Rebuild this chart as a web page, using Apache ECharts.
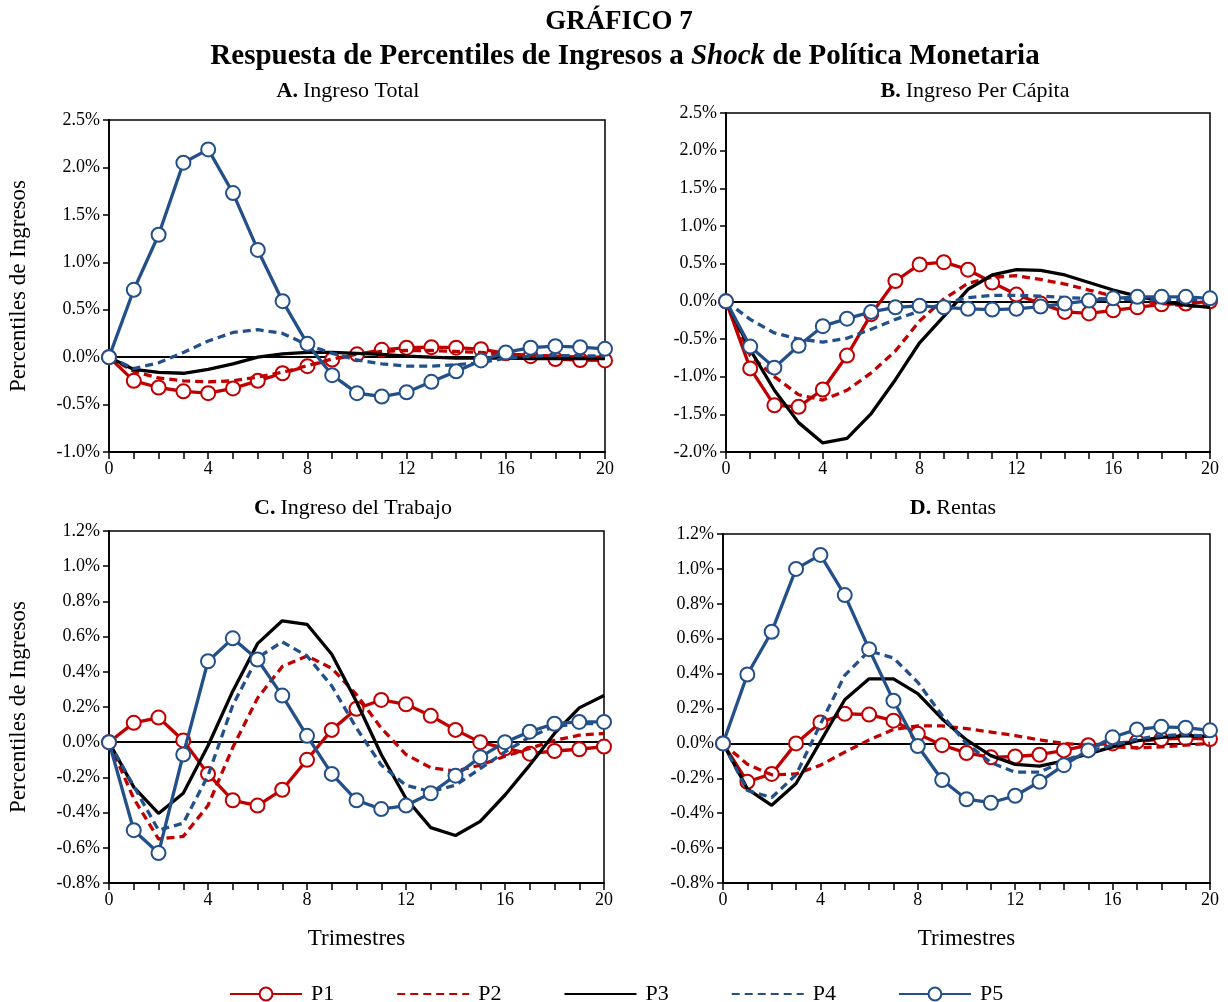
<!DOCTYPE html>
<html>
<head>
<meta charset="utf-8">
<script src="https://cdn.jsdelivr.net/npm/echarts@6/dist/echarts.min.js"></script>
<style>
  html, body { margin: 0; padding: 0; background: #fff; }
  #chart { width: 1228px; height: 1002px; }
</style>
</head>
<body>
<div id="chart"></div>
<script>
// Quarters after the shock (x axis categories)
const quarters = ['0','1','2','3','4','5','6','7','8','9','10','11','12','13','14','15','16','17','18','19','20'];

// A. Ingreso Total (% response)
const totalP1 = [0,-0.25,-0.32,-0.36,-0.38,-0.33,-0.25,-0.17,-0.095,-0.025,0.03,0.077,0.10,0.105,0.10,0.084,0.04,0.01,-0.02,-0.03,-0.035];
const totalP2 = [0,-0.15,-0.22,-0.25,-0.26,-0.25,-0.21,-0.16,-0.09,-0.02,0.03,0.06,0.07,0.07,0.06,0.05,0.03,0.02,0.01,0.0,0.0];
const totalP3 = [0,-0.13,-0.16,-0.17,-0.13,-0.07,0.0,0.035,0.05,0.05,0.04,0.03,0.01,0.0,-0.01,-0.01,-0.01,-0.015,-0.015,-0.015,-0.015];
const totalP4 = [0,-0.12,-0.06,0.05,0.17,0.26,0.29,0.25,0.13,0.04,-0.03,-0.07,-0.095,-0.095,-0.08,-0.06,-0.01,0.01,0.015,0.015,0.01];
const totalP5 = [0,0.71,1.29,2.05,2.19,1.73,1.13,0.59,0.14,-0.19,-0.38,-0.415,-0.37,-0.26,-0.15,-0.035,0.05,0.10,0.116,0.105,0.088];

// B. Ingreso Per Cápita
const perCapP1 = [0,-0.89,-1.38,-1.40,-1.17,-0.72,-0.17,0.27,0.49,0.52,0.42,0.25,0.09,-0.03,-0.14,-0.16,-0.12,-0.08,-0.04,-0.03,0.0];
const perCapP2 = [0,-0.72,-1.0,-1.24,-1.31,-1.18,-0.95,-0.66,-0.26,0.03,0.24,0.32,0.34,0.29,0.23,0.15,0.07,0.01,-0.03,-0.06,-0.07];
const perCapP3 = [0,-0.64,-1.18,-1.61,-1.88,-1.82,-1.49,-1.04,-0.55,-0.20,0.16,0.35,0.42,0.41,0.35,0.25,0.15,0.07,0.0,-0.05,-0.08];
const perCapP4 = [0,-0.24,-0.42,-0.50,-0.54,-0.49,-0.37,-0.24,-0.13,-0.03,0.05,0.08,0.08,0.07,0.05,0.04,0.03,0.02,0.02,0.02,0.03];
const perCapP5 = [0,-0.60,-0.88,-0.59,-0.33,-0.23,-0.14,-0.08,-0.06,-0.08,-0.10,-0.11,-0.10,-0.07,-0.03,0.01,0.04,0.06,0.06,0.06,0.04];

// C. Ingreso del Trabajo
const laborP1 = [0,0.11,0.14,0.01,-0.18,-0.33,-0.36,-0.27,-0.10,0.07,0.19,0.24,0.215,0.15,0.07,0.0,-0.035,-0.065,-0.05,-0.04,-0.025];
const laborP2 = [0,-0.32,-0.55,-0.535,-0.36,-0.03,0.25,0.43,0.49,0.42,0.27,0.08,-0.07,-0.145,-0.165,-0.13,-0.08,-0.035,0.01,0.04,0.05];
const laborP3 = [0,-0.255,-0.405,-0.29,-0.02,0.29,0.56,0.69,0.67,0.50,0.23,-0.07,-0.32,-0.485,-0.53,-0.45,-0.30,-0.13,0.05,0.195,0.265];
const laborP4 = [0,-0.25,-0.50,-0.46,-0.19,0.21,0.48,0.57,0.49,0.32,0.08,-0.13,-0.245,-0.28,-0.245,-0.15,-0.055,0.03,0.09,0.105,0.105];
const laborP5 = [0,-0.50,-0.63,-0.07,0.46,0.59,0.47,0.265,0.036,-0.18,-0.33,-0.38,-0.36,-0.29,-0.19,-0.085,0.0,0.06,0.105,0.115,0.115];

// D. Rentas
const rentP1 = [0,-0.22,-0.175,0.0,0.12,0.17,0.165,0.13,0.055,-0.01,-0.055,-0.08,-0.075,-0.065,-0.04,-0.01,0.0,0.01,0.025,0.03,0.025];
const rentP2 = [0,-0.12,-0.18,-0.175,-0.125,-0.05,0.02,0.08,0.10,0.10,0.085,0.065,0.045,0.02,0.0,-0.01,-0.02,-0.025,-0.02,-0.01,0.0];
const rentP3 = [0,-0.26,-0.355,-0.23,0.01,0.25,0.37,0.37,0.285,0.14,0.02,-0.07,-0.12,-0.13,-0.10,-0.06,-0.02,0.015,0.035,0.045,0.04];
const rentP4 = [0,-0.27,-0.31,-0.18,0.11,0.39,0.53,0.49,0.35,0.16,0.0,-0.11,-0.165,-0.165,-0.10,-0.05,-0.01,0.025,0.045,0.05,0.04];
const rentP5 = [0,0.395,0.64,1.0,1.08,0.85,0.54,0.245,-0.015,-0.21,-0.32,-0.34,-0.30,-0.22,-0.125,-0.04,0.035,0.08,0.095,0.09,0.075];

const seriesNames = ['P1','P2','P3','P4','P5'];

const RED = '#C00000';
const BLUE = '#245089';
const FONT = 'Liberation Serif';

const lineLook = {
  P1: { color: RED, dash: 'solid', marker: true },
  P2: { color: RED, dash: [8, 5], marker: false },
  P3: { color: '#000000', dash: 'solid', marker: false },
  P4: { color: BLUE, dash: [8, 5], marker: false },
  P5: { color: BLUE, dash: 'solid', marker: true }
};

const panels = [
  { key: 'A', name: 'Ingreso Total', data: [totalP1, totalP2, totalP3, totalP4, totalP5],
    grid: { left: 109, top: 120, width: 496, height: 332 }, min: -1.0, max: 2.5, step: 0.5,
    yName: true, xName: false, titleX: 343, titleY: 75 },
  { key: 'B', name: 'Ingreso Per Cápita', data: [perCapP1, perCapP2, perCapP3, perCapP4, perCapP5],
    grid: { left: 726, top: 113, width: 484, height: 339 }, min: -2.0, max: 2.5, step: 0.5,
    yName: false, xName: false, titleX: 970, titleY: 75 },
  { key: 'C', name: 'Ingreso del Trabajo', data: [laborP1, laborP2, laborP3, laborP4, laborP5],
    grid: { left: 109, top: 531, width: 495, height: 352 }, min: -0.8, max: 1.2, step: 0.2,
    yName: true, xName: true, titleX: 348, titleY: 492 },
  { key: 'D', name: 'Rentas', data: [rentP1, rentP2, rentP3, rentP4, rentP5],
    grid: { left: 723, top: 534, width: 487, height: 349 }, min: -0.8, max: 1.2, step: 0.2,
    yName: false, xName: true, titleX: 948, titleY: 492 }
];

const grids = [], xAxes = [], yAxes = [], series = [];
const titles = [
  { text: 'GRÁFICO 7', left: 614, top: 4, textAlign: 'center',
    textStyle: { fontFamily: FONT, fontSize: 27, fontWeight: 'bold', color: '#000' } },
  { text: '{b|Respuesta de Percentiles de Ingresos a }{bi|Shock}{b| de Política Monetaria}',
    left: 620, top: 37, textAlign: 'center',
    textStyle: { rich: {
      b: { fontFamily: FONT, fontSize: 29, fontWeight: 'bold', color: '#000' },
      bi: { fontFamily: FONT, fontSize: 29, fontWeight: 'bold', fontStyle: 'italic', color: '#000' }
    } } }
];

panels.forEach((p, gi) => {
  grids.push(Object.assign({ show: true, borderColor: '#000', borderWidth: 1.5, backgroundColor: 'transparent' }, p.grid));
  titles.push({
    text: '{b|' + p.key + '.} {n|' + p.name + '}', left: p.titleX, top: p.titleY, textAlign: 'center',
    textStyle: { rich: {
      b: { fontFamily: FONT, fontSize: 22, fontWeight: 'bold', color: '#000' },
      n: { fontFamily: FONT, fontSize: 22, fontWeight: 'normal', color: '#000' }
    } }
  });
  xAxes.push({
    type: 'category', gridIndex: gi, data: quarters, boundaryGap: false,
    axisLine: { onZero: false, lineStyle: { color: '#000', width: 1.8 } },
    axisTick: { show: true, interval: 0, length: 7, inside: false, lineStyle: { color: '#000', width: 1.5 } },
    axisLabel: { interval: 3, margin: 8, fontFamily: FONT, fontSize: 18, color: '#000' },
    splitLine: { show: false },
    name: p.xName ? 'Trimestres' : '', nameLocation: 'middle', nameGap: 44,
    nameTextStyle: { fontFamily: FONT, fontSize: 23, color: '#000' }
  });
  yAxes.push({
    type: 'value', gridIndex: gi, min: p.min, max: p.max, interval: p.step,
    axisLine: { show: true, lineStyle: { color: '#000', width: 1.8 } },
    axisTick: { show: true, length: 6, lineStyle: { color: '#000', width: 1.5 } },
    axisLabel: { margin: 9, fontFamily: FONT, fontSize: 18, color: '#000',
      formatter: v => v.toFixed(1) + '%' },
    splitLine: { show: false },
    name: p.yName ? 'Percentiles de Ingresos' : '', nameLocation: 'middle', nameGap: 79,
    nameTextStyle: { fontFamily: FONT, fontSize: 23, color: '#000' }
  });
  seriesNames.forEach((nm, si) => {
    const look = lineLook[nm];
    const s = {
      name: nm, type: 'line', xAxisIndex: gi, yAxisIndex: gi,
      data: p.data[si], smooth: false,
      symbol: look.marker ? 'circle' : 'none', symbolSize: 14, showAllSymbol: true,
      lineStyle: { color: look.color, width: 3.3, type: look.dash },
      itemStyle: { color: '#ffffff', borderColor: look.color, borderWidth: 2 },
      z: 3 + si
    };
    if (si === 0) {
      // horizontal reference line at zero
      s.markLine = {
        silent: true, symbol: ['none', 'none'], label: { show: false },
        lineStyle: { color: '#000', width: 1.8, type: 'solid' },
        data: [{ yAxis: 0 }], z: 1
      };
    }
    series.push(s);
  });
});

// legend entries: lines without markers get an invisible centre symbol
const hidden = { color: 'rgba(0,0,0,0)', borderColor: 'rgba(0,0,0,0)', borderWidth: 0 };
const legendItems = seriesNames.map(nm => lineLook[nm].marker ? { name: nm } : { name: nm, itemStyle: hidden });

const chart = echarts.init(document.getElementById('chart'), null, { renderer: 'canvas' });
chart.setOption({
  animation: false,
  backgroundColor: '#ffffff',
  title: titles,
  grid: grids,
  xAxis: xAxes,
  yAxis: yAxes,
  legend: {
    data: legendItems, left: 224, top: 978, orient: 'horizontal',
    itemWidth: 72, itemHeight: 16, itemGap: 62,
    textStyle: { fontFamily: FONT, fontSize: 22, color: '#000', padding: [0, 0, 0, 4] }
  },
  series: series
});
</script>
</body>
</html>
